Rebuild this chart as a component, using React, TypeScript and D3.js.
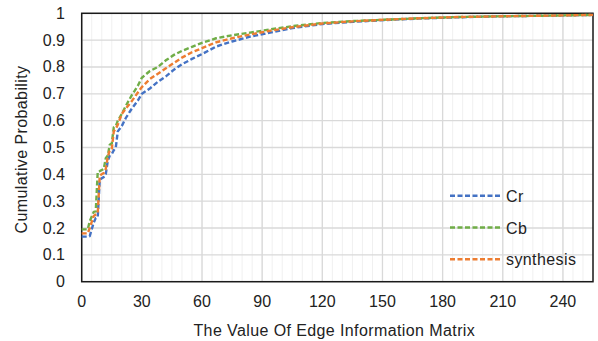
import React from "react";
import * as d3 from "d3";

const W = 598;
const H = 341;

const xValues = [0, 3, 4, 6, 7, 8, 9, 11, 12, 13, 14, 15, 16, 17, 18, 20, 22, 25, 28, 30, 34, 38, 42, 46, 50, 55, 60, 67, 75, 84, 94, 105, 120, 135, 154, 170, 187, 210, 230, 255];
const crValues = [0.168, 0.168, 0.17, 0.22, 0.237, 0.24, 0.38, 0.39, 0.4, 0.45, 0.47, 0.475, 0.49, 0.5, 0.56, 0.58, 0.61, 0.645, 0.675, 0.7, 0.72, 0.745, 0.765, 0.79, 0.81, 0.83, 0.848, 0.876, 0.895, 0.913, 0.928, 0.945, 0.96, 0.968, 0.976, 0.981, 0.985, 0.989, 0.991, 0.994];
const cbValues = [0.195, 0.195, 0.225, 0.26, 0.262, 0.41, 0.412, 0.42, 0.46, 0.47, 0.51, 0.515, 0.575, 0.58, 0.6, 0.625, 0.655, 0.695, 0.73, 0.76, 0.785, 0.8, 0.825, 0.845, 0.86, 0.875, 0.89, 0.907, 0.918, 0.928, 0.94, 0.952, 0.964, 0.971, 0.977, 0.982, 0.986, 0.989, 0.991, 0.994];
const synValues = [0.18, 0.18, 0.2, 0.245, 0.25, 0.255, 0.395, 0.405, 0.42, 0.465, 0.49, 0.495, 0.56, 0.57, 0.585, 0.625, 0.645, 0.673, 0.705, 0.725, 0.755, 0.775, 0.795, 0.815, 0.835, 0.855, 0.87, 0.892, 0.907, 0.921, 0.935, 0.948, 0.962, 0.97, 0.977, 0.982, 0.986, 0.989, 0.991, 0.994];

const seriesNames = ["Cr", "Cb", "synthesis"];
const seriesColors = ["#4472C4", "#70AD47", "#ED7D31"];
const seriesData = [crValues, cbValues, synValues];

const xTicks = [0, 30, 60, 90, 120, 150, 180, 210, 240];
const yTicks = [0, 0.1, 0.2, 0.3, 0.4, 0.5, 0.6, 0.7, 0.8, 0.9, 1];
const xMinorTicks = d3.range(0, 256, 5);

const xTitle = "The Value Of Edge Information Matrix";
const yTitle = "Cumulative Probability";

const FONT = "Liberation Sans, Arial, sans-serif";

export default function App() {
  const left = 81.7, right = 593, top = 13.3, bottom = 281.7;
  const x = d3.scaleLinear().domain([0, 255]).range([left, right]);
  const y = d3.scaleLinear().domain([0, 1]).range([bottom, top]);
  const line = d3
    .line<number>()
    .x((_, i) => x(xValues[i]))
    .y((d) => y(d));

  return (
    <svg
      width={W}
      height={H}
      style={{ position: "fixed", left: 0, top: 0, background: "#fff" }}
      fontFamily={FONT}
    >
      <rect x={0} y={0} width={W} height={H} fill="#fff" />
      {xMinorTicks.map((t) => (
        <line key={"m" + t} x1={x(t)} x2={x(t)} y1={top} y2={bottom} stroke="#f0f0f0" strokeWidth={1} />
      ))}
      {xTicks.map((t) => (
        <line key={"vx" + t} x1={x(t)} x2={x(t)} y1={top} y2={bottom} stroke="#d9d9d9" strokeWidth={1.3} />
      ))}
      {yTicks.map((t) => (
        <line key={"hy" + t} x1={left} x2={right} y1={y(t)} y2={y(t)} stroke="#d9d9d9" strokeWidth={1.3} />
      ))}
      <rect x={left} y={top} width={right - left} height={bottom - top} fill="none" stroke="#1a1a1a" strokeWidth={1.5} />

      {seriesData.map((vals, i) => (
        <path
          key={seriesNames[i]}
          d={line(vals) || ""}
          fill="none"
          stroke={seriesColors[i]}
          strokeWidth={2.4}
          strokeDasharray="5,2.5"
        />
      ))}

      {xTicks.map((t) => (
        <text key={"xt" + t} x={x(t)} y={307} textAnchor="middle" fontSize={16} fill="#222">
          {t}
        </text>
      ))}
      {yTicks.map((t) => (
        <text key={"yt" + t} x={65} y={y(t) + 5.5} textAnchor="end" fontSize={16} fill="#222">
          {t}
        </text>
      ))}
      <text x={(left + right) / 2 - 3} y={336} textAnchor="middle" fontSize={16} letterSpacing={0.4} fill="#222">
        {xTitle}
      </text>
      <text
        transform={`translate(27,${(top + bottom) / 2 + 2}) rotate(-90)`}
        textAnchor="middle"
        fontSize={16}
        letterSpacing={0.4}
        fill="#222"
      >
        {yTitle}
      </text>

      {seriesNames.map((n, i) => {
        const ly = 195.7 + i * 31.8;
        return (
          <g key={"lg" + n}>
            <line x1={450} x2={502} y1={ly} y2={ly} stroke={seriesColors[i]} strokeWidth={2.4} strokeDasharray="5,2.5" />
            <text x={506} y={ly + 6} fontSize={16} letterSpacing={0.4} fill="#222">
              {n}
            </text>
          </g>
        );
      })}
    </svg>
  );
}
